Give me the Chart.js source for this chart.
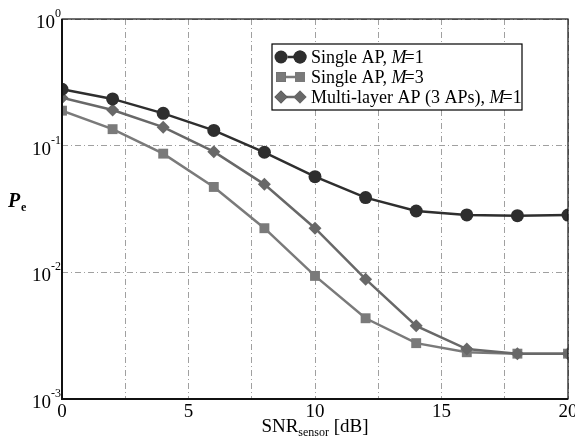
<!DOCTYPE html>
<html>
<head>
<meta charset="utf-8">
<script src="https://cdn.jsdelivr.net/npm/chart.js@4/dist/chart.umd.min.js"></script>
<style>
  html, body { margin: 0; padding: 0; background: #fff; }
  #wrap { width: 575px; height: 437px; position: relative; }
</style>
</head>
<body>
<div id="wrap"><canvas id="peChart"></canvas></div>
<script>
// SNR_sensor in dB
const snr = [0, 2, 4, 6, 8, 10, 12, 14, 16, 18, 20];

// Pe values
const singleM1 = [0.279, 0.234, 0.180, 0.132, 0.0887, 0.0569, 0.0389, 0.0305, 0.0284, 0.0280, 0.0283];
const singleM3 = [0.189, 0.135, 0.0865, 0.0472, 0.0223, 0.00937, 0.00434, 0.00276, 0.00234, 0.00228, 0.00228];
const multiM1 = [0.239, 0.191, 0.140, 0.0897, 0.0495, 0.0223, 0.00883, 0.00378, 0.00248, 0.00228, 0.00228];

// ticks
const xLabelTicks = [0, 5, 10, 15, 20];
const xGridStep = 2.5;
const yDecades = [-3, -2, -1, 0];

const legendItems = [
    { name: 'Single AP, ', tail: '=1', color: '#2e2e2e', style: 'circle' },
    { name: 'Single AP, ', tail: '=3', color: '#7a7a7a', style: 'rect' },
    { name: 'Multi-layer AP (3 APs), ', tail: '=1', color: '#686868', style: 'rectRot' }
];

const SERIF = '"Liberation Serif", "Times New Roman", serif';

function toPoints(ys) {
    return snr.map((x, i) => ({ x: x, y: ys[i] }));
}

// Draws the frame, tick labels with superscripts, axis titles and legend
const decorPlugin = {
    id: 'decor',
    afterDraw(chart) {
        const ctx = chart.ctx;
        const area = chart.chartArea;
        const xs = chart.scales.x;
        const ys = chart.scales.y;

        ctx.save();
        // frame: left/bottom axes heavier than top/right
        ctx.strokeStyle = '#111';
        ctx.lineWidth = 1.2;
        ctx.strokeRect(area.left, area.top, area.right - area.left, area.bottom - area.top);
        ctx.lineWidth = 2;
        ctx.beginPath();
        ctx.moveTo(area.left, area.top);
        ctx.lineTo(area.left, area.bottom);
        ctx.lineTo(area.right, area.bottom);
        ctx.stroke();

        // x tick labels
        ctx.fillStyle = '#000';
        ctx.font = '19px ' + SERIF;
        ctx.textAlign = 'center';
        ctx.textBaseline = 'top';
        xLabelTicks.forEach(v => {
            ctx.fillText(String(v), xs.getPixelForValue(v), area.bottom + 4);
        });

        // y tick labels 10^k
        yDecades.forEach(k => {
            const py = ys.getPixelForValue(Math.pow(10, k));
            const sup = k === 0 ? '0' : String(k);
            ctx.font = '12px ' + SERIF;
            const supW = ctx.measureText(sup).width;
            ctx.textAlign = 'right';
            ctx.textBaseline = 'middle';
            ctx.fillText(sup, area.left - 1, py - 5);
            ctx.font = '19px ' + SERIF;
            ctx.fillText('10', area.left - 1 - supW, py + 4);
        });

        // y axis title P_e
        ctx.textAlign = 'left';
        ctx.textBaseline = 'alphabetic';
        ctx.font = 'italic bold 20px ' + SERIF;
        ctx.fillText('P', 8, 207);
        ctx.font = 'bold 12px ' + SERIF;
        ctx.fillText('e', 21, 211);

        // x axis title SNR_sensor [dB]
        ctx.font = '19px ' + SERIF;
        const t1 = 'SNR';
        const t2 = 'sensor';
        const t3 = ' [dB]';
        const w1 = ctx.measureText(t1).width;
        const w3 = ctx.measureText(t3).width;
        ctx.font = '12px ' + SERIF;
        const w2 = ctx.measureText(t2).width;
        let tx = (area.left + area.right) / 2 - (w1 + w2 + w3) / 2;
        const base = 432;
        ctx.font = '19px ' + SERIF;
        ctx.fillText(t1, tx, base);
        tx += w1;
        ctx.font = '12px ' + SERIF;
        ctx.fillText(t2, tx, base + 4);
        tx += w2;
        ctx.font = '19px ' + SERIF;
        ctx.fillText(t3, tx, base);

        // legend
        const lx = 272, ly = 44, lw = 250, lh = 66;
        ctx.fillStyle = '#fff';
        ctx.fillRect(lx, ly, lw, lh);
        ctx.strokeStyle = '#000';
        ctx.lineWidth = 1.2;
        ctx.strokeRect(lx, ly, lw, lh);
        legendItems.forEach((it, i) => {
            const cy = ly + 13 + i * 20;
            ctx.strokeStyle = it.color;
            ctx.lineWidth = 2.5;
            ctx.beginPath();
            ctx.moveTo(281, cy);
            ctx.lineTo(300, cy);
            ctx.stroke();
            [281, 300].forEach(mx => {
                Chart.helpers.drawPoint(ctx, {
                    pointStyle: it.style,
                    radius: it.style === 'rect' ? 7 : 6.5,
                    borderWidth: 0
                }, mx, cy);
                ctx.fillStyle = it.color;
                ctx.fill();
            });
            ctx.fillStyle = '#000';
            ctx.textBaseline = 'middle';
            ctx.font = '18px ' + SERIF;
            let px = 311;
            ctx.fillText(it.name, px, cy + 1);
            px += ctx.measureText(it.name).width;
            ctx.font = 'italic 18px ' + SERIF;
            ctx.fillText('M', px, cy + 1);
            px += ctx.measureText('M').width - 2;
            ctx.font = '18px ' + SERIF;
            ctx.fillText(it.tail, px, cy + 1);
        });
        ctx.restore();
    }
};

function dataset(label, ys, color, style, radius, order) {
    return {
        label: label,
        data: toPoints(ys),
        borderColor: color,
        backgroundColor: color,
        borderWidth: 2.5,
        pointStyle: style,
        pointRadius: radius,
        pointBorderWidth: 0,
        pointBackgroundColor: color,
        tension: 0,
        order: order
    };
}

new Chart(document.getElementById('peChart'), {
    type: 'line',
    data: {
        datasets: [
            dataset('Single AP, M=1', singleM1, '#2e2e2e', 'circle', 6.5, 0),
            dataset('Single AP, M=3', singleM3, '#7a7a7a', 'rect', 7, 2),
            dataset('Multi-layer AP (3 APs), M=1', multiM1, '#686868', 'rectRot', 6.5, 1)
        ]
    },
    options: {
        responsive: true,
        maintainAspectRatio: false,
        animation: false,
        layout: { padding: { top: 19, right: 7, left: 0, bottom: 0 } },
        plugins: {
            legend: { display: false },
            tooltip: { enabled: false }
        },
        scales: {
            x: {
                type: 'linear',
                min: 0,
                max: 20,
                ticks: { display: false, stepSize: xGridStep },
                grid: { color: '#a0a0a0', lineWidth: 1, drawTicks: false },
                border: { display: false, dash: [6, 3, 1, 3] },
                afterFit: s => { s.height = 38; }
            },
            y: {
                type: 'logarithmic',
                min: 1e-3,
                max: 1,
                ticks: { display: false },
                afterBuildTicks: s => {
                    s.ticks = yDecades.map(k => ({ value: Math.pow(10, k) }));
                },
                grid: { color: '#a0a0a0', lineWidth: 1, drawTicks: false },
                border: { display: false, dash: [6, 3, 1, 3] },
                afterFit: s => { s.width = 62; }
            }
        }
    },
    plugins: [decorPlugin]
});
</script>
</body>
</html>
